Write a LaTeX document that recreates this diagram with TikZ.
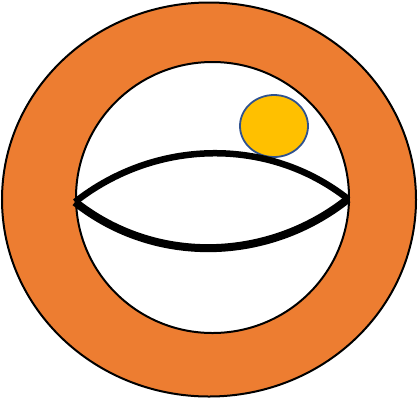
\documentclass[tikz,border=0pt]{standalone}
\usepackage{tikz}
\definecolor{ringorange}{RGB}{237, 125, 49}
\definecolor{sungold}{RGB}{255, 192, 0}
\definecolor{sunedge}{RGB}{47, 82, 143}

\begin{document}
\begin{tikzpicture}[x=1pt, y=-1pt]
			\useasboundingbox (0, 0) rectangle (419, 400);
			\filldraw [draw=black, fill=ringorange, line width=2pt] (209, 199.5) ellipse [x radius=207, y radius=197];
			\filldraw [draw=black, fill=white, line width=2pt] (212.5, 197.5) ellipse [x radius=136.5, y radius=135.5];
			\filldraw [draw=sunedge, fill=sungold, line width=1.8pt] (274, 126) ellipse [x radius=34, y radius=31];
			\coordinate (lefttip) at (75, 202);
			\coordinate (righttip) at (348, 199);
			\draw [black, line width=6.5pt] (lefttip) .. controls (155, 139) and (268, 136) .. (righttip);
			\draw [black, line width=8pt] (lefttip) .. controls (155, 265.5) and (268, 262.5) .. (righttip);
		\end{tikzpicture}
\end{document}
